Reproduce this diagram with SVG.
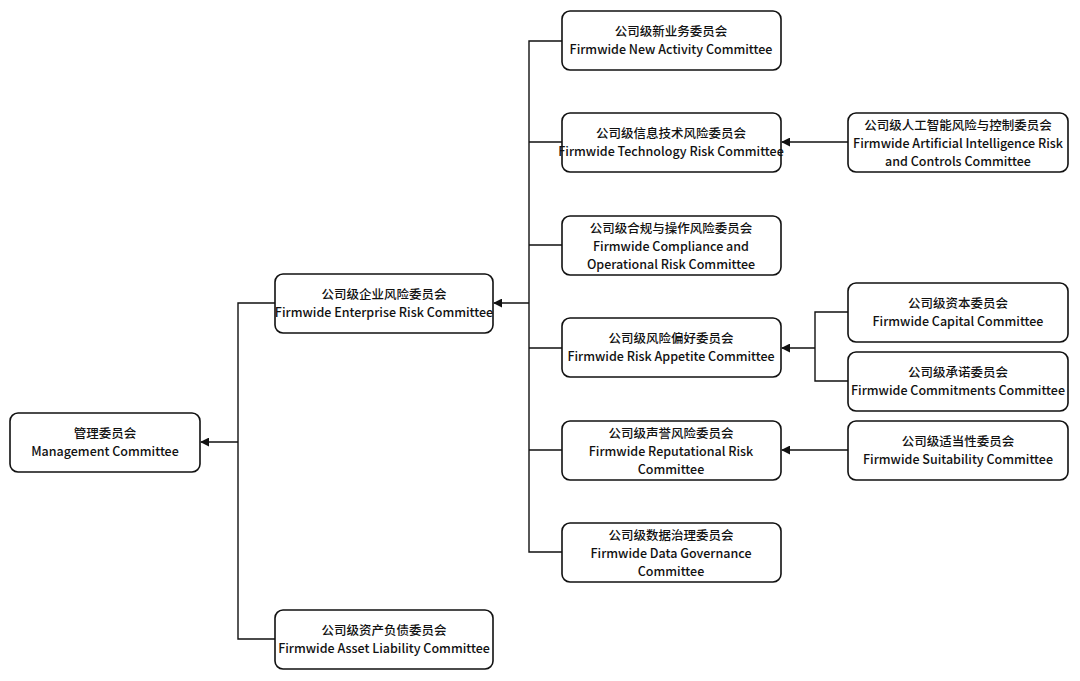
<svg xmlns="http://www.w3.org/2000/svg" width="1080" height="681" viewBox="0 0 1080 681">
<style>
.b{fill:#fff;stroke:#111;stroke-width:1.6}
text{font-family:"Noto Sans CJK SC","Noto Sans",sans-serif;font-size:12.5px;fill:#111;text-anchor:middle;font-weight:500}
.c{stroke:#111;stroke-width:1.4;fill:none}
</style>
<defs><marker id="a" viewBox="0 0 10 10" refX="9" refY="5" markerWidth="9" markerHeight="9" markerUnits="userSpaceOnUse" orient="auto"><path d="M0,0L10,5L0,10z" fill="#111"/></marker></defs>
<rect width="1080" height="681" fill="#fff"/>
<g id="connectors" class="c">
<path d="M238,442H201" marker-end="url(#a)"/>
<path d="M275,303H238V639H275"/>
<path d="M529,303H494" marker-end="url(#a)"/>
<path d="M562,41H529V552H562M529,142H562M529,245H562M529,348H562M529,450H562"/>
<path d="M848,142H782" marker-end="url(#a)"/>
<path d="M848,312H815V381H848"/>
<path d="M815,348H782" marker-end="url(#a)"/>
<path d="M848,450H782" marker-end="url(#a)"/>
</g>
<g id="mgmt"><rect class="b" x="10" y="413" width="190" height="59" rx="8"/><text x="105" y="438">管理委员会</text><text x="105" y="456">Management Committee</text></g>
<g id="erc"><rect class="b" x="275" y="274" width="218" height="59" rx="8"/><text x="384" y="299">公司级企业风险委员会</text><text x="384" y="317">Firmwide Enterprise Risk Committee</text></g>
<g id="alc"><rect class="b" x="275" y="610" width="218" height="59" rx="8"/><text x="384" y="635">公司级资产负债委员会</text><text x="384" y="653">Firmwide Asset Liability Committee</text></g>
<g id="nac"><rect class="b" x="562" y="11" width="219" height="59" rx="8"/><text x="671" y="36">公司级新业务委员会</text><text x="671" y="54">Firmwide New Activity Committee</text></g>
<g id="trc"><rect class="b" x="562" y="113" width="219" height="59" rx="8"/><text x="671" y="138">公司级信息技术风险委员会</text><text x="671" y="156">Firmwide Technology Risk Committee</text></g>
<g id="corc"><rect class="b" x="562" y="216" width="219" height="59" rx="8"/><text x="671" y="233">公司级合规与操作风险委员会</text><text x="671" y="251">Firmwide Compliance and</text><text x="671" y="269">Operational Risk Committee</text></g>
<g id="rac"><rect class="b" x="562" y="318" width="219" height="59" rx="8"/><text x="671" y="343">公司级风险偏好委员会</text><text x="671" y="361">Firmwide Risk Appetite Committee</text></g>
<g id="rrc"><rect class="b" x="562" y="421" width="219" height="59" rx="8"/><text x="671" y="438">公司级声誉风险委员会</text><text x="671" y="456">Firmwide Reputational Risk</text><text x="671" y="474">Committee</text></g>
<g id="dgc"><rect class="b" x="562" y="523" width="219" height="59" rx="8"/><text x="671" y="540">公司级数据治理委员会</text><text x="671" y="558">Firmwide Data Governance</text><text x="671" y="576">Committee</text></g>
<g id="ai"><rect class="b" x="848" y="113" width="220" height="59" rx="8"/><text x="958" y="130">公司级人工智能风险与控制委员会</text><text x="958" y="148">Firmwide Artificial Intelligence Risk</text><text x="958" y="166">and Controls Committee</text></g>
<g id="cap"><rect class="b" x="848" y="283" width="220" height="59" rx="8"/><text x="958" y="308">公司级资本委员会</text><text x="958" y="326">Firmwide Capital Committee</text></g>
<g id="com"><rect class="b" x="848" y="352" width="220" height="59" rx="8"/><text x="958" y="377">公司级承诺委员会</text><text x="958" y="395">Firmwide Commitments Committee</text></g>
<g id="suit"><rect class="b" x="848" y="421" width="220" height="59" rx="8"/><text x="958" y="446">公司级适当性委员会</text><text x="958" y="464">Firmwide Suitability Committee</text></g>
</svg>
